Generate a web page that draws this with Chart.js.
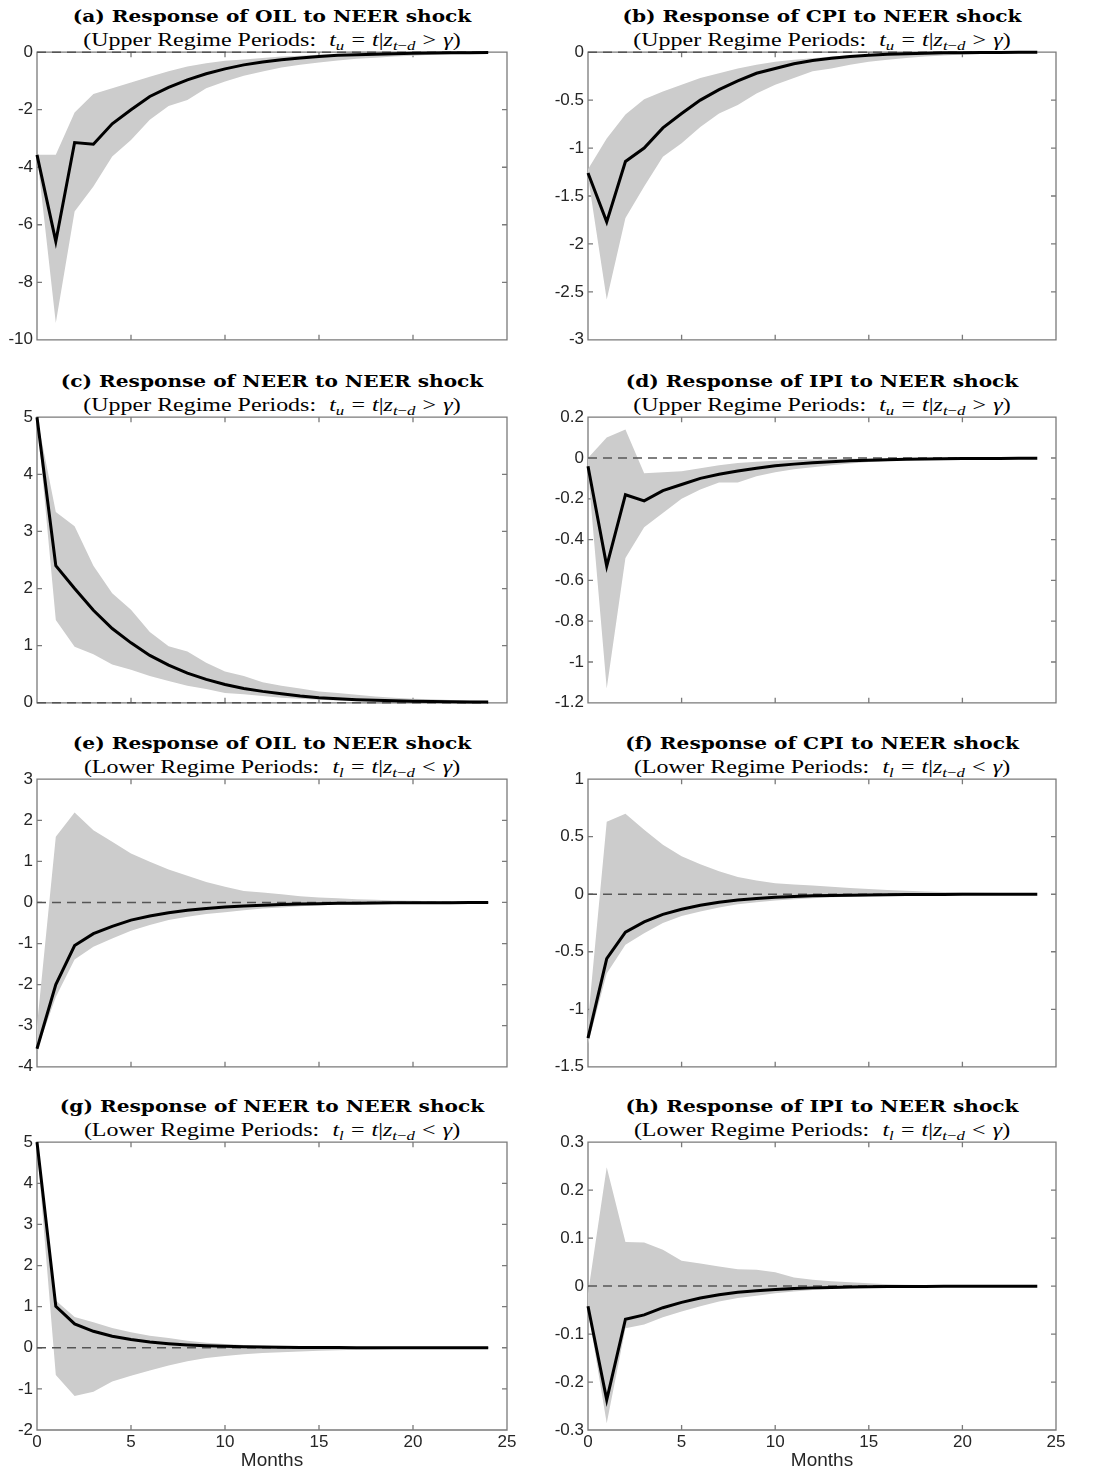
<!DOCTYPE html>
<html>
<head>
<meta charset="utf-8">
<title>Impulse responses to a NEER shock</title>
<script src="https://cdn.jsdelivr.net/npm/chart.js@4.4.1/dist/chart.umd.min.js"></script>
<style>
  body { margin: 0; background: #fff; }
  #fig { position: relative; width: 1102px; height: 1472px; overflow: hidden; }
  #fig canvas { position: absolute; }
  .ttl, .sub {
    position: absolute;
    white-space: nowrap;
    line-height: 1;
    color: #000;
  }
  .ttl {
    font-family: "DejaVu Serif", serif; font-weight: bold; font-size: 16.5px;
    transform: translate(-50%, -50%) scaleX(1.22);
  }
  .sub {
    font-family: "Liberation Serif", serif; font-size: 19px;
    transform: translate(-50%, -50%) scaleX(1.26);
  }
  .sub i { font-style: italic; }
  .sub sub { font-size: 70%; vertical-align: -4px; line-height: 0; }
  .sub .rel { margin: 0 0.3em; }
  .sub .gap { margin-left: 0.3em; }
</style>
</head>
<body>
<div id="fig"></div>
<script>
// Horizon (months after the shock)
const months = [0, 1, 2, 3, 4, 5, 6, 7, 8, 9, 10, 11, 12, 13, 14, 15, 16, 17, 18, 19, 20, 21, 22, 23, 24];
const xTicks = [0, 5, 10, 15, 20, 25];

// Upper regime: point response, upper and lower band
const upperOil   = [-3.57, -6.58, -3.14, -3.2, -2.49, -2.0, -1.54, -1.22, -0.96, -0.75, -0.58, -0.44, -0.34, -0.26, -0.2, -0.15, -0.11, -0.09, -0.07, -0.05, -0.04, -0.03, -0.02, -0.015, -0.01];
const upperOilHi = [-3.57, -3.57, -2.1, -1.45, -1.25, -1.05, -0.85, -0.66, -0.5, -0.38, -0.3, -0.25, -0.2, -0.15, -0.12, -0.09, -0.07, -0.05, -0.04, -0.03, -0.02, -0.015, -0.01, -0.008, -0.005];
const upperOilLo = [-3.57, -9.42, -5.54, -4.67, -3.63, -3.05, -2.35, -1.87, -1.66, -1.25, -1.02, -0.82, -0.67, -0.53, -0.44, -0.36, -0.29, -0.23, -0.19, -0.15, -0.12, -0.09, -0.07, -0.05, -0.04];

const upperCpi   = [-1.26, -1.77, -1.14, -1.0, -0.79, -0.64, -0.5, -0.39, -0.3, -0.22, -0.17, -0.12, -0.087, -0.063, -0.045, -0.031, -0.021, -0.015, -0.01, -0.007, -0.005, -0.003, -0.002, -0.001, -0.001];
const upperCpiHi = [-1.22, -0.9, -0.65, -0.49, -0.41, -0.34, -0.27, -0.22, -0.17, -0.13, -0.1, -0.08, -0.063, -0.045, -0.035, -0.025, -0.018, -0.012, -0.009, -0.006, -0.004, -0.003, -0.002, -0.001, -0.001];
const upperCpiLo = [-1.3, -2.58, -1.73, -1.4, -1.09, -0.95, -0.78, -0.64, -0.55, -0.43, -0.34, -0.27, -0.2, -0.17, -0.13, -0.1, -0.08, -0.06, -0.045, -0.035, -0.025, -0.02, -0.015, -0.01, -0.008];

const upperNeer   = [5.0, 2.4, 2.0, 1.62, 1.3, 1.05, 0.83, 0.66, 0.52, 0.41, 0.32, 0.25, 0.2, 0.16, 0.12, 0.09, 0.07, 0.055, 0.045, 0.035, 0.028, 0.022, 0.018, 0.015, 0.012];
const upperNeerHi = [5.0, 3.34, 3.09, 2.4, 1.92, 1.63, 1.24, 0.99, 0.9, 0.7, 0.55, 0.47, 0.36, 0.3, 0.25, 0.2, 0.17, 0.14, 0.11, 0.09, 0.07, 0.06, 0.05, 0.04, 0.03];
const upperNeerLo = [5.0, 1.45, 0.98, 0.85, 0.67, 0.58, 0.47, 0.38, 0.3, 0.24, 0.17, 0.15, 0.12, 0.09, 0.07, 0.055, 0.04, 0.03, 0.025, 0.02, 0.015, 0.012, 0.01, 0.008, 0.006];

const upperIpi   = [-0.04, -0.53, -0.18, -0.21, -0.16, -0.13, -0.1, -0.08, -0.064, -0.05, -0.038, -0.03, -0.023, -0.018, -0.014, -0.011, -0.008, -0.006, -0.005, -0.004, -0.003, -0.002, -0.002, -0.001, -0.001];
const upperIpiHi = [0.0, 0.1, 0.14, -0.075, -0.07, -0.065, -0.05, -0.035, -0.025, -0.018, -0.013, -0.01, -0.007, -0.005, -0.004, -0.003, -0.002, -0.002, -0.001, -0.001, -0.001, 0, 0, 0, 0];
const upperIpiLo = [-0.06, -1.13, -0.49, -0.34, -0.27, -0.2, -0.155, -0.12, -0.12, -0.09, -0.07, -0.055, -0.045, -0.035, -0.027, -0.02, -0.015, -0.011, -0.008, -0.006, -0.005, -0.004, -0.003, -0.002, -0.002];

// Lower regime
const lowerOil   = [-3.56, -2.0, -1.05, -0.76, -0.58, -0.43, -0.33, -0.25, -0.19, -0.145, -0.11, -0.085, -0.065, -0.05, -0.038, -0.029, -0.022, -0.017, -0.013, -0.01, -0.008, -0.006, -0.005, -0.004, -0.003];
const lowerOilHi = [-3.0, 1.6, 2.19, 1.76, 1.48, 1.19, 0.99, 0.8, 0.65, 0.5, 0.38, 0.28, 0.24, 0.2, 0.15, 0.12, 0.1, 0.08, 0.065, 0.05, 0.04, 0.032, 0.026, 0.02, 0.016];
const lowerOilLo = [-3.6, -2.3, -1.39, -1.08, -0.88, -0.69, -0.55, -0.43, -0.35, -0.28, -0.24, -0.19, -0.15, -0.12, -0.09, -0.07, -0.055, -0.043, -0.034, -0.027, -0.021, -0.017, -0.013, -0.01, -0.008];

const lowerCpi   = [-1.25, -0.56, -0.33, -0.24, -0.175, -0.13, -0.095, -0.07, -0.05, -0.036, -0.026, -0.019, -0.014, -0.01, -0.008, -0.006, -0.004, -0.003, -0.002, -0.002, -0.001, -0.001, -0.001, 0, 0];
const lowerCpiHi = [-1.1, 0.63, 0.7, 0.56, 0.43, 0.33, 0.26, 0.2, 0.15, 0.12, 0.095, 0.085, 0.075, 0.065, 0.055, 0.045, 0.037, 0.03, 0.024, 0.019, 0.015, 0.012, 0.01, 0.008, 0.006];
const lowerCpiLo = [-1.3, -0.69, -0.44, -0.34, -0.25, -0.19, -0.15, -0.115, -0.087, -0.07, -0.055, -0.043, -0.034, -0.027, -0.021, -0.016, -0.012, -0.009, -0.007, -0.005, -0.004, -0.003, -0.002, -0.002, -0.001];

const lowerNeer   = [5.0, 1.01, 0.58, 0.4, 0.28, 0.2, 0.14, 0.1, 0.07, 0.05, 0.035, 0.025, 0.018, 0.013, 0.009, 0.006, 0.004, 0.003, 0.002, 0.0015, 0.001, 0.001, 0.0005, 0.0005, 0.0003];
const lowerNeerHi = [5.0, 1.15, 0.75, 0.62, 0.48, 0.38, 0.29, 0.24, 0.17, 0.12, 0.09, 0.07, 0.05, 0.04, 0.03, 0.022, 0.017, 0.013, 0.01, 0.008, 0.006, 0.005, 0.004, 0.003, 0.002];
const lowerNeerLo = [4.9, -0.66, -1.17, -1.07, -0.82, -0.68, -0.55, -0.43, -0.33, -0.25, -0.2, -0.16, -0.13, -0.11, -0.09, -0.075, -0.06, -0.05, -0.04, -0.032, -0.025, -0.02, -0.016, -0.013, -0.01];

const lowerIpi   = [-0.042, -0.237, -0.069, -0.06, -0.045, -0.034, -0.025, -0.018, -0.013, -0.0097, -0.007, -0.005, -0.0037, -0.0027, -0.002, -0.0015, -0.001, -0.0008, -0.0006, -0.0004, -0.0003, -0.0002, -0.0002, -0.0001, -0.0001];
const lowerIpiHi = [-0.015, 0.248, 0.092, 0.091, 0.076, 0.053, 0.047, 0.041, 0.035, 0.034, 0.029, 0.018, 0.013, 0.01, 0.008, 0.006, 0.004, 0.003, 0.0025, 0.002, 0.0015, 0.001, 0.001, 0.0008, 0.0006];
const lowerIpiLo = [-0.05, -0.286, -0.088, -0.08, -0.065, -0.053, -0.042, -0.032, -0.025, -0.02, -0.015, -0.011, -0.008, -0.006, -0.0045, -0.0034, -0.0025, -0.0019, -0.0014, -0.001, -0.0008, -0.0006, -0.0004, -0.0003, -0.0002];

// Y axis limits and tick steps, panels (a)..(h)
const yMin  = [-10, -3, 0, -1.2, -4, -1.5, -2, -0.3];
const yMax  = [0, 0, 5, 0.2, 3, 1, 5, 0.3];
const yStep = [2, 0.5, 1, 0.2, 1, 0.5, 1, 0.1];

const panelLetters = ['a', 'b', 'c', 'd', 'e', 'f', 'g', 'h'];
const responseVars = ['OIL', 'CPI', 'NEER', 'IPI', 'OIL', 'CPI', 'NEER', 'IPI'];

const series = [
  [upperOil, upperOilHi, upperOilLo],
  [upperCpi, upperCpiHi, upperCpiLo],
  [upperNeer, upperNeerHi, upperNeerLo],
  [upperIpi, upperIpiHi, upperIpiLo],
  [lowerOil, lowerOilHi, lowerOilLo],
  [lowerCpi, lowerCpiHi, lowerCpiLo],
  [lowerNeer, lowerNeerHi, lowerNeerLo],
  [lowerIpi, lowerIpiHi, lowerIpiLo]
];

// Grid geometry (pixels)
const cols = [
  { left: 0, width: 550, axisW: 37, padRight: 43, center: 272 },
  { left: 550, width: 552, axisW: 38, padRight: 46, center: 822 }
];
const plotTop = [52, 417, 779, 1142];
const plotBottom = [340, 703, 1067, 1430];
const TOP_PAD = 14;

const TICK_FONT = { family: '"Liberation Sans", Arial, Helvetica, sans-serif', size: 17 };
const TICK_COLOR = '#262626';

// MATLAB style box with inward tick marks on all four sides
const boxPlugin = {
  id: 'box',
  beforeDatasetsDraw(chart) {
    const { ctx, chartArea: a, scales: { x, y } } = chart;
    const len = 5;
    ctx.save();
    ctx.strokeStyle = '#7a7a7a';
    ctx.lineWidth = 1.3;
    ctx.beginPath();
    ctx.rect(a.left, a.top, a.right - a.left, a.bottom - a.top);
    x.ticks.forEach(t => {
      const px = x.getPixelForValue(t.value);
      ctx.moveTo(px, a.bottom); ctx.lineTo(px, a.bottom - len);
      ctx.moveTo(px, a.top); ctx.lineTo(px, a.top + len);
    });
    y.ticks.forEach(t => {
      const py = y.getPixelForValue(t.value);
      ctx.moveTo(a.left, py); ctx.lineTo(a.left + len, py);
      ctx.moveTo(a.right, py); ctx.lineTo(a.right - len, py);
    });
    ctx.stroke();
    ctx.restore();
  }
};

function points(values) {
  return values.map((v, i) => ({ x: months[i], y: v }));
}

function fmt(v) {
  const r = Math.round(v * 100) / 100;
  return String(r === 0 ? 0 : r);
}

const fig = document.getElementById('fig');

series.forEach((s, k) => {
  const row = Math.floor(k / 2);
  const col = cols[k % 2];
  const isBottom = row === 3;
  const xAxisH = isBottom ? 42 : 14;
  const top = plotTop[row] - TOP_PAD;
  const height = plotBottom[row] - plotTop[row] + TOP_PAD + xAxisH;

  // titles
  const regime = row < 2 ? 'Upper' : 'Lower';
  const t = document.createElement('div');
  t.className = 'ttl';
  t.style.left = col.center + 'px';
  t.style.top = (plotTop[row] - 35) + 'px';
  t.textContent = '(' + panelLetters[k] + ') Response of ' + responseVars[k] + ' to NEER shock';
  fig.appendChild(t);

  const st = document.createElement('div');
  st.className = 'sub';
  st.style.left = col.center + 'px';
  st.style.top = (plotTop[row] - 13) + 'px';
  const sub = row < 2 ? 'u' : 'l';
  const rel = row < 2 ? '&gt;' : '&lt;';
  st.innerHTML = '(' + regime + ' Regime Periods:<span class="gap"></span> <i>t</i><sub><i>' + sub + '</i></sub>' +
    '<span class="rel">=</span><i>t</i>|<i>z</i><sub><i>t</i>\u2212<i>d</i></sub>' +
    '<span class="rel">' + rel + '</span><i>\u03b3</i>)';
  fig.appendChild(st);

  const canvas = document.createElement('canvas');
  canvas.width = col.width;
  canvas.height = height;
  canvas.style.left = col.left + 'px';
  canvas.style.top = top + 'px';
  fig.appendChild(canvas);

  new Chart(canvas, {
    type: 'line',
    data: {
      datasets: [
        {
          data: points(s[0]),
          borderColor: '#000',
          borderWidth: 3,
          pointRadius: 0,
          tension: 0,
          fill: false,
          clip: false
        },
        {
          data: points(months.map(() => 0)),
          borderColor: '#555',
          borderWidth: 1.5,
          borderDash: [9, 6],
          pointRadius: 0,
          fill: false,
          clip: false
        },
        {
          data: points(s[1]),
          borderWidth: 0,
          borderColor: 'rgba(0,0,0,0)',
          backgroundColor: '#cccccc',
          pointRadius: 0,
          tension: 0,
          fill: '+1'
        },
        {
          data: points(s[2]),
          borderWidth: 0,
          borderColor: 'rgba(0,0,0,0)',
          pointRadius: 0,
          tension: 0,
          fill: false
        }
      ]
    },
    options: {
      responsive: false,
      animation: false,
      events: [],
      layout: { padding: { top: TOP_PAD, left: 0, right: col.padRight, bottom: 0 } },
      plugins: { legend: { display: false }, tooltip: { enabled: false }, title: { display: false } },
      scales: {
        x: {
          type: 'linear',
          min: 0,
          max: 25,
          afterBuildTicks: (scale) => { scale.ticks = xTicks.map(v => ({ value: v })); },
          afterFit: (scale) => { scale.height = xAxisH; },
          grid: { display: false, drawTicks: false },
          border: { display: false },
          ticks: {
            display: isBottom,
            padding: 2,
            maxRotation: 0,
            autoSkip: false,
            font: TICK_FONT,
            color: TICK_COLOR
          },
          title: {
            display: isBottom,
            text: 'Months',
            font: { family: TICK_FONT.family, size: 19 },
            color: TICK_COLOR,
            padding: 0
          }
        },
        y: {
          min: yMin[k],
          max: yMax[k],
          afterFit: (scale) => { scale.width = col.axisW; },
          grid: { display: false, drawTicks: false },
          border: { display: false },
          ticks: {
            stepSize: yStep[k],
            padding: 4,
            font: TICK_FONT,
            color: TICK_COLOR,
            callback: (v) => fmt(v)
          }
        }
      }
    },
    plugins: [boxPlugin]
  });
});
</script>
</body>
</html>
